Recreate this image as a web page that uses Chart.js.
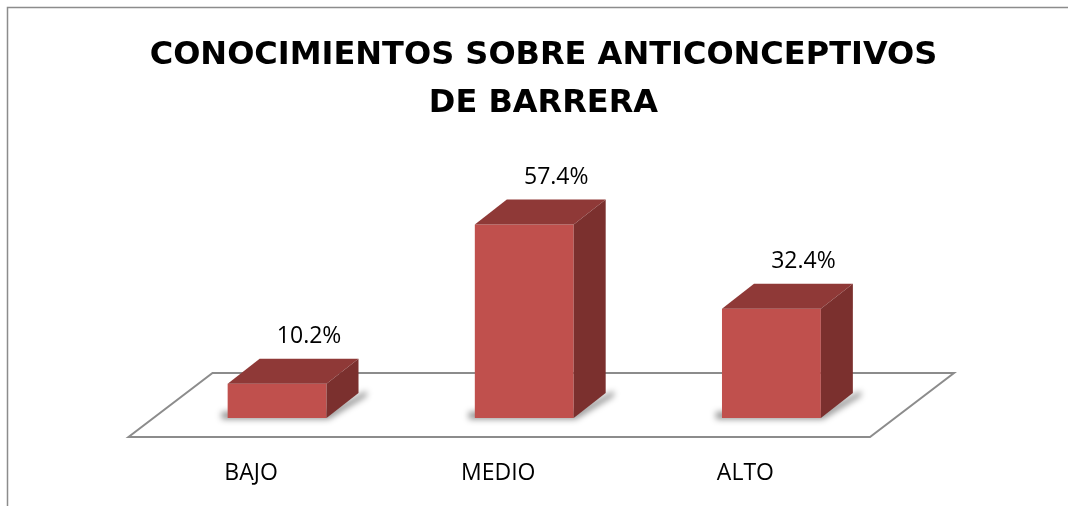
<!DOCTYPE html>
<html lang="es">
<head>
  <meta charset="UTF-8" />
  <title>Conocimientos sobre anticonceptivos de barrera</title>
  <script src="https://cdn.jsdelivr.net/npm/chart.js"></script>
  <style>
    body {
      margin: 0;
      background-color: #fff;
    }
    #chart {
      display: block;
    }
  </style>
</head>
<body>
  <canvas id="chart" width="1068" height="506"></canvas>

  <script>
    const categories = ["BAJO", "MEDIO", "ALTO"];
    const percentages = [10.2, 57.4, 32.4];
    const titleLines = ["CONOCIMIENTOS SOBRE ANTICONCEPTIVOS", "DE BARRERA"];

    // depth of the floor in front of / behind the bar plane, and of the bars
    const floorFront = { dx: -25, dy: 19 };
    const floorBack = { dx: 59, dy: -45 };
    const barDepth = { dx: 32, dy: -25 };

    const frontColor = "#c0504d";
    const topColor = "#8f3937";
    const sideColor = "#7b302e";

    // frame, title, floor, shadows and the 3d faces of the bars
    const floorPlugin = {
      id: "floor",
      beforeDraw(chart) {
        const ctx = chart.ctx;
        ctx.save();
        ctx.strokeStyle = "#8c8c8c";
        ctx.lineWidth = 1.5;
        ctx.beginPath();
        ctx.moveTo(7.5, 506);
        ctx.lineTo(7.5, 7.5);
        ctx.lineTo(1068, 7.5);
        ctx.stroke();

        ctx.fillStyle = "#000";
        ctx.font = "bold 32px 'DejaVu Sans'";
        ctx.textAlign = "center";
        ctx.textBaseline = "alphabetic";
        titleLines.forEach((line, i) => {
          ctx.fillText(line, 543.5, 64 + i * 48);
        });
        ctx.restore();
      },
      beforeDatasetsDraw(chart) {
        const ctx = chart.ctx;
        const area = chart.chartArea;
        const y0 = chart.scales.y.getPixelForValue(0);
        ctx.save();
        ctx.beginPath();
        ctx.moveTo(area.left + floorFront.dx, y0 + floorFront.dy);
        ctx.lineTo(area.right + floorFront.dx, y0 + floorFront.dy);
        ctx.lineTo(area.right + floorBack.dx, y0 + floorBack.dy);
        ctx.lineTo(area.left + floorBack.dx, y0 + floorBack.dy);
        ctx.closePath();
        ctx.fillStyle = "#fff";
        ctx.fill();
        ctx.strokeStyle = "#8c8c8c";
        ctx.lineWidth = 2;
        ctx.stroke();

        // soft shadow at the foot of each bar
        const meta = chart.getDatasetMeta(0);
        meta.data.forEach(bar => {
          const p = bar.getProps(["x", "y", "base", "width"], true);
          const l = p.x - p.width / 2;
          const r = p.x + p.width / 2;
          ctx.save();
          ctx.filter = "blur(3px)";
          ctx.fillStyle = "rgba(0,0,0,0.45)";
          ctx.beginPath();
          ctx.moveTo(l - 6, p.base - 6);
          ctx.lineTo(r, p.base - 6);
          ctx.lineTo(r + barDepth.dx + 8, p.base + barDepth.dy - 2);
          ctx.lineTo(r + barDepth.dx + 8, p.base + barDepth.dy + 3);
          ctx.lineTo(r + 2, p.base + 1);
          ctx.lineTo(l - 6, p.base + 1);
          ctx.closePath();
          ctx.fill();
          ctx.restore();
        });
        ctx.restore();
      },
      afterDatasetsDraw(chart) {
        const ctx = chart.ctx;
        const meta = chart.getDatasetMeta(0);
        ctx.save();
        meta.data.forEach((bar, i) => {
          const p = bar.getProps(["x", "y", "base", "width"], true);
          const l = p.x - p.width / 2;
          const r = p.x + p.width / 2;
          // top face
          ctx.fillStyle = topColor;
          ctx.beginPath();
          ctx.moveTo(l, p.y);
          ctx.lineTo(r, p.y);
          ctx.lineTo(r + barDepth.dx, p.y + barDepth.dy);
          ctx.lineTo(l + barDepth.dx, p.y + barDepth.dy);
          ctx.closePath();
          ctx.fill();
          // side face
          ctx.fillStyle = sideColor;
          ctx.beginPath();
          ctx.moveTo(r, p.y);
          ctx.lineTo(r + barDepth.dx, p.y + barDepth.dy);
          ctx.lineTo(r + barDepth.dx, p.base + barDepth.dy);
          ctx.lineTo(r, p.base);
          ctx.closePath();
          ctx.fill();
          // value label
          ctx.fillStyle = "#000";
          ctx.font = "23px 'Open Sans'";
          ctx.textAlign = "center";
          ctx.textBaseline = "middle";
          ctx.fillText(percentages[i].toFixed(1) + "%", p.x + barDepth.dx, p.y + barDepth.dy - 22);
        });
        ctx.restore();
      }
    };

    Chart.defaults.font.family = "'Open Sans', sans-serif";
    Chart.defaults.color = "#000";

    new Chart(document.getElementById("chart"), {
      type: "bar",
      data: {
        labels: categories,
        datasets: [{
          data: percentages,
          backgroundColor: frontColor,
          borderWidth: 0,
          barPercentage: 0.4,
          categoryPercentage: 1
        }]
      },
      options: {
        responsive: false,
        animation: false,
        layout: {
          padding: { left: 153.5, right: 173, top: 148.4, bottom: 0 }
        },
        scales: {
          x: {
            grid: { display: false, drawTicks: false },
            border: { display: false },
            ticks: {
              font: { size: 23 },
              padding: 42,
              labelOffset: -26,
              color: "#000"
            },
            afterFit(scale) {
              scale.height = 88;
            }
          },
          y: {
            display: false,
            min: 0,
            max: 80
          }
        },
        plugins: {
          legend: { display: false },
          tooltip: { enabled: false },
          title: { display: false }
        }
      },
      plugins: [floorPlugin]
    });
  </script>
</body>
</html>
